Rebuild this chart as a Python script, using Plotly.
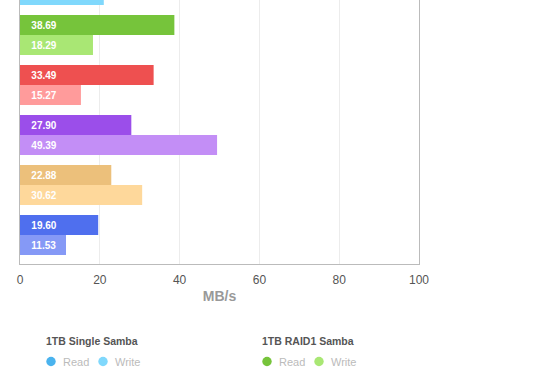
import plotly.graph_objects as go

# ---- data ----
groups = ["1TB Single Samba", "1TB RAID1 Samba", "Group 3", "Group 4", "Group 5", "Group 6"]
read_mbs = [None, 38.69, 33.49, 27.90, 22.88, 19.60]   # first read bar is outside the visible crop
write_mbs = [21.0, 18.29, 15.27, 49.39, 30.62, 11.53]
read_text = ["", "38.69", "33.49", "27.90", "22.88", "19.60"]
write_text = ["", "18.29", "15.27", "49.39", "30.62", "11.53"]
read_colors = ["#4ab3ee", "#76c43b", "#ee5050", "#9b4eea", "#ecc07b", "#4f6fee"]
write_colors = ["#80d8fc", "#a9e774", "#ff9b9b", "#c38ef6", "#fed89b", "#8599f6"]
x_ticks = [0, 20, 40, 60, 80, 100]
legend_groups = ["1TB Single Samba", "1TB RAID1 Samba"]
series_names = ["Read", "Write"]

NB = "\u00a0\u00a0\u00a0"

fig = go.Figure()
for name, vals, txt, cols in [("Read", read_mbs, read_text, read_colors),
                              ("Write", write_mbs, write_text, write_colors)]:
    fig.add_trace(go.Bar(
        y=groups, x=vals, orientation="h", name=name,
        marker=dict(color=cols, line=dict(width=0)),
        text=[NB + t if t else "" for t in txt], textposition="inside", insidetextanchor="start",
        constraintext="none",
        insidetextfont=dict(color="white", size=10, family="Liberation Sans, Arial", weight="bold"),
        showlegend=False, hoverinfo="x+y",
    ))

W, H = 560, 390
L, R, T, B = 20, 141, 0, 126
pw, ph = W - L - R, H - T - B

def px(xp):
    return (xp - L) / pw

def py(yp):
    return (H - B - yp) / ph

annotations = []
shapes = []
leg_x = [44, 260]
for gi, g in enumerate(legend_groups):
    x0 = leg_x[gi]
    annotations.append(dict(x=px(x0), y=py(341), xref="paper", yref="paper", text=g,
                            showarrow=False, xanchor="left", yanchor="middle",
                            font=dict(size=10.5, color="#555", family="Liberation Sans, Arial",
                                      weight="bold")))
    dot_x = [x0 + 7, x0 + 59]
    cols = [read_colors[gi], write_colors[gi]]
    for si, sname in enumerate(series_names):
        shapes.append(dict(type="circle", xref="paper", yref="paper",
                           xsizemode="pixel", ysizemode="pixel",
                           xanchor=px(dot_x[si]), yanchor=py(361.5),
                           x0=-4.7, x1=4.7, y0=-4.7, y1=4.7,
                           fillcolor=cols[si], line=dict(width=0)))
        annotations.append(dict(x=px(dot_x[si] + 10), y=py(361.5), xref="paper", yref="paper",
                                text=sname, showarrow=False, xanchor="left", yanchor="middle",
                                font=dict(size=11, color="#bbb", family="Liberation Sans, Arial")))

fig.update_layout(
    width=W, height=H,
    margin=dict(l=L, r=R, t=T, b=B, pad=0),
    paper_bgcolor="white", plot_bgcolor="white",
    barmode="group", bargap=0.2, bargroupgap=0,
    xaxis=dict(range=[0, 100], tickvals=x_ticks, showgrid=True, gridcolor="#ececec", gridwidth=1,
               zeroline=False, showline=True, linecolor="#bbb", linewidth=1, mirror=True,
               ticks="", ticklabelstandoff=5,
               tickfont=dict(size=12, color="#555", family="Liberation Sans, Arial"),
               title=dict(text="MB/s", standoff=4,
                          font=dict(size=14, color="#999", family="Liberation Sans, Arial", weight="bold")),
               fixedrange=True),
    yaxis=dict(type="category", range=[5.58, 0.3], showticklabels=False, showgrid=False,
               zeroline=False, showline=True, linecolor="#bbb", linewidth=1, mirror=True,
               ticks="", fixedrange=True),
    annotations=annotations, shapes=shapes,
    font=dict(family="Liberation Sans, Arial"),
)

fig.write_html("out.html", config={"displayModeBar": False},
               post_script="document.body.style.margin='0';document.body.style.overflow='hidden';")
